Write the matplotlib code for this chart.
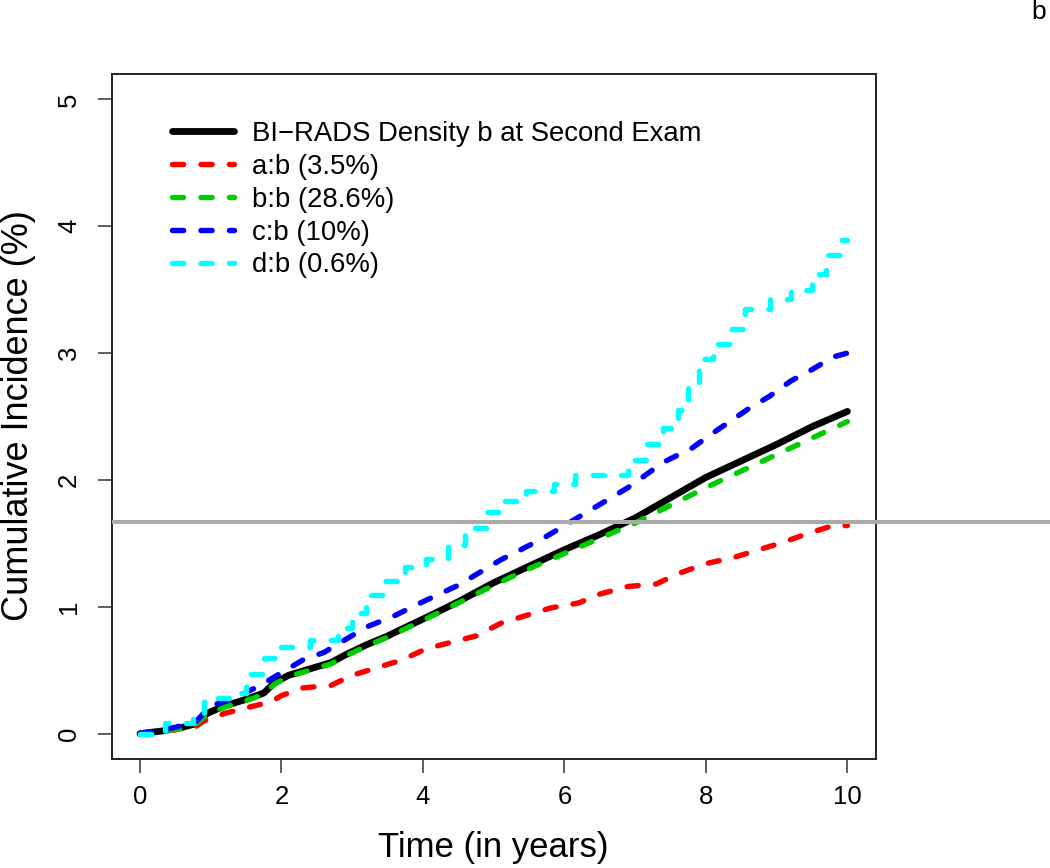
import matplotlib
matplotlib.use("Agg")
import matplotlib.pyplot as plt

plt.rcParams['font.family'] = ['Liberation Sans', 'DejaVu Sans']
plt.rcParams['lines.scale_dashes'] = False

# ---- data ----
t_all = [0, 0.3, 0.6, 0.8, 0.95, 1.2, 1.5, 1.75, 1.9, 2.1, 2.4, 2.7, 2.9, 3.2, 3.5, 3.8, 4.1,
         4.5, 5.0, 5.5, 6.0, 6.5, 7.0, 7.5, 8.0, 8.5, 9.0, 9.5, 10.0]
v_all = [0, 0.02, 0.05, 0.08, 0.16, 0.22, 0.27, 0.32, 0.40, 0.46, 0.51, 0.56, 0.62, 0.70, 0.77,
         0.85, 0.93, 1.04, 1.19, 1.32, 1.45, 1.57, 1.70, 1.86, 2.02, 2.15, 2.28, 2.42, 2.54]

t_bb = t_all
v_bb = [0, 0.02, 0.04, 0.08, 0.15, 0.21, 0.26, 0.31, 0.39, 0.45, 0.50, 0.55, 0.61, 0.69, 0.76,
        0.84, 0.92, 1.03, 1.17, 1.30, 1.42, 1.54, 1.66, 1.80, 1.94, 2.07, 2.20, 2.33, 2.46]

t_ab = [0, 0.5, 0.8, 0.9, 1.2, 1.55, 1.85, 2.0, 2.3, 2.7, 3.0, 3.35, 3.7, 4.05, 4.4, 4.75, 5.1,
        5.45, 5.8, 6.2, 6.5, 6.9, 7.3, 7.6, 8.0, 8.4, 8.75, 9.1, 9.45, 9.8, 10.0]
v_ab = [0, 0.03, 0.06, 0.10, 0.16, 0.21, 0.25, 0.30, 0.36, 0.38, 0.46, 0.52, 0.58, 0.67, 0.72,
        0.77, 0.87, 0.93, 0.99, 1.03, 1.10, 1.16, 1.18, 1.26, 1.34, 1.39, 1.45, 1.51, 1.58, 1.64, 1.64]

t_cb = [0, 0.5, 0.8, 1.0, 1.3, 1.7, 2.0, 2.3, 2.6, 2.9, 3.2, 3.6, 4.0, 4.5, 5.1, 5.7, 6.3, 6.9,
        7.4, 7.8, 8.1, 8.6, 8.9, 9.2, 9.5, 9.8, 10.0]
v_cb = [0, 0.05, 0.10, 0.22, 0.27, 0.38, 0.48, 0.58, 0.64, 0.74, 0.84, 0.93, 1.04, 1.17, 1.37,
        1.54, 1.74, 1.94, 2.14, 2.25, 2.37, 2.56, 2.66, 2.78, 2.87, 2.97, 3.00]

t_db = [0, 0.35, 0.75, 0.9, 1.3, 1.5, 1.75, 2.0, 2.4, 2.8, 3.0, 3.2, 3.45, 3.75, 4.05, 4.35, 4.6,
        4.9, 5.15, 5.45, 5.85, 6.15, 6.9, 7.15, 7.4, 7.6, 7.75, 7.9, 8.1, 8.35, 8.55, 8.9, 9.2,
        9.5, 9.7, 9.9, 10.0]
v_db = [0, 0.08, 0.16, 0.28, 0.32, 0.47, 0.60, 0.68, 0.74, 0.83, 0.95, 1.09, 1.20, 1.31, 1.38,
        1.49, 1.62, 1.75, 1.83, 1.91, 1.97, 2.04, 2.16, 2.28, 2.41, 2.55, 2.77, 2.95, 3.07, 3.19,
        3.35, 3.43, 3.50, 3.62, 3.77, 3.89, 3.89]

labels = ["BI\u2212RADS Density b at Second Exam", "a:b (3.5%)", "b:b (28.6%)",
          "c:b (10%)", "d:b (0.6%)"]
ref_level = 1.665
x_ticks = [0, 2, 4, 6, 8, 10]
y_ticks = [0, 1, 2, 3, 4, 5]
panel_label = "b"

# ---- figure ----
W, H = 1050, 868
fig = plt.figure(figsize=(W / 100, H / 100), dpi=100)
ax = fig.add_axes([111.7 / W, 1 - 759 / H, (875.7 - 111.7) / W, (759 - 74) / H])

dash = (0, (8.0, 12.5))
lw_c = 3.9
ax.plot(t_all, v_all, color='black', lw=4.9, solid_capstyle='round', label=labels[0], zorder=3)
ax.plot(t_ab, v_ab, color='#FF0000', lw=lw_c, linestyle=dash, dash_capstyle='round', label=labels[1], zorder=4)
ax.plot(t_bb, v_bb, color='#00CD00', lw=lw_c, linestyle=dash, dash_capstyle='round', label=labels[2], zorder=4)
ax.plot(t_cb, v_cb, color='#0000FF', lw=lw_c, linestyle=dash, dash_capstyle='round', label=labels[3], zorder=4)
ax.plot(t_db, v_db, color='#00FFFF', lw=lw_c, linestyle=dash, dash_capstyle='round',
        drawstyle='steps-post', label=labels[4], zorder=4)

ax.set_xlim(-0.4, 10.4)
ax.set_ylim(-0.2, 5.2)

# grey reference line extending to the figure's right edge
ax.plot([-0.4, 10.4 + (W - 875.7) / 70.74], [ref_level, ref_level], color='#AAAAAA', lw=2.9,
        clip_on=False, zorder=5, solid_capstyle='butt')

ax.set_xticks(x_ticks)
ax.set_yticks(y_ticks)
ax.set_xticklabels([str(v) for v in x_ticks], fontsize=18.5)
ax.set_yticklabels([str(v) for v in y_ticks], fontsize=18.5, rotation=90, va='center')
ax.tick_params(axis='both', direction='out', length=10, width=1.1, color='#333333')
ax.tick_params(axis='x', pad=9)
ax.tick_params(axis='y', pad=12)
for s in ax.spines.values():
    s.set_linewidth(1.4)
    s.set_color('#222222')

fig.text(493.7 / W, 1 - 848 / H, "Time (in years)", fontsize=25, ha='center', va='center')
fig.text(19 / W, 1 - 416 / H, "Cumulative Incidence (%)", fontsize=26, ha='center', va='center',
         rotation=90)
fig.text(1039 / W, 1 - 12 / H, panel_label, fontsize=19, ha='center', va='center')

leg = ax.legend(loc='upper left', bbox_to_anchor=(172 / W, 1 - 121 / H),
                bbox_transform=fig.transFigure, frameon=False, fontsize=19.8,
                handlelength=2.25, handletextpad=0.65, labelspacing=0.25, borderpad=0,
                borderaxespad=0)

fig.savefig("out.png", dpi=100)
